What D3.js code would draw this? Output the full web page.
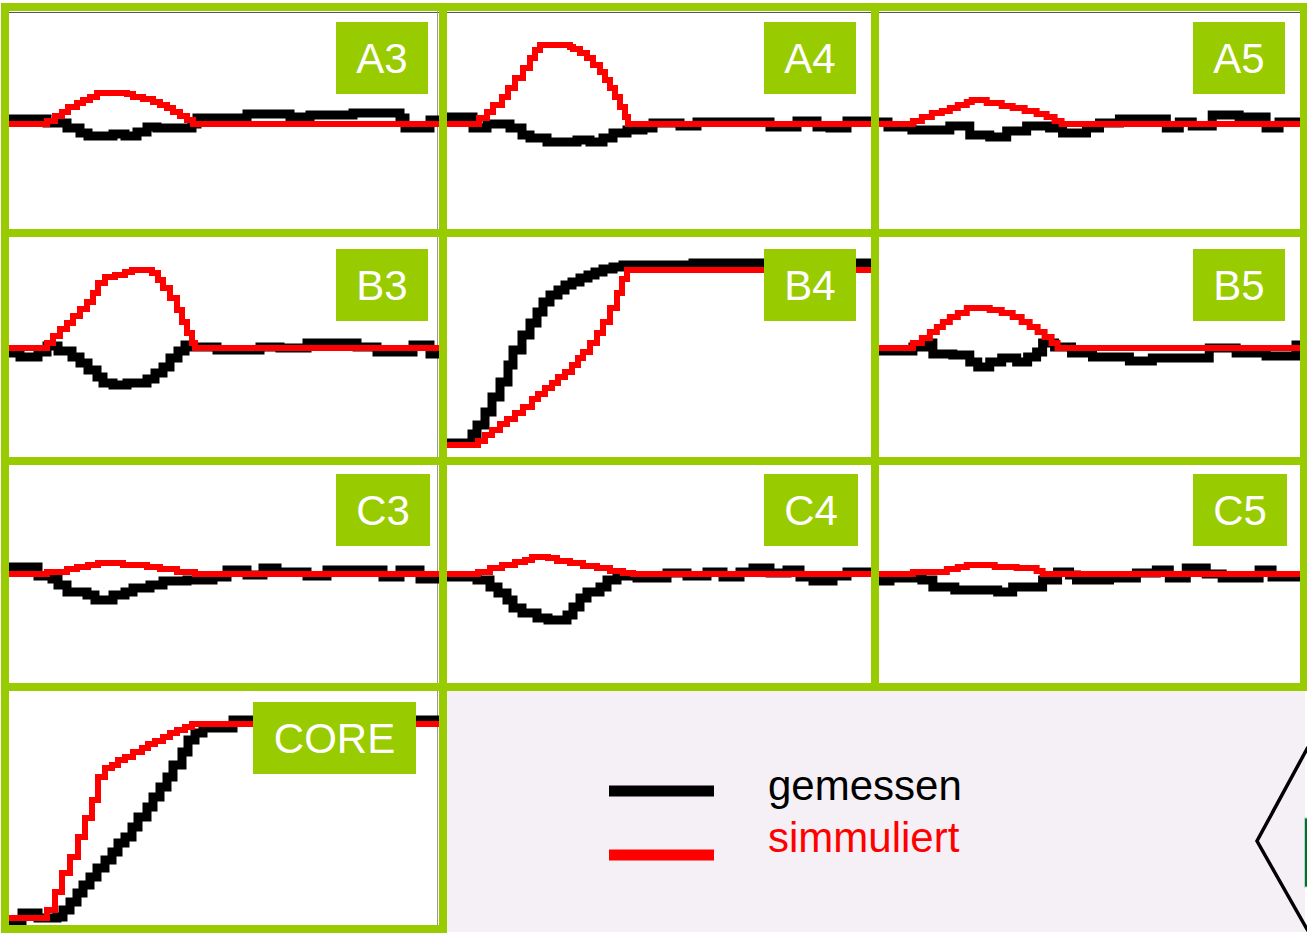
<!DOCTYPE html>
<html>
<head>
<meta charset="utf-8">
<script src="https://cdn.jsdelivr.net/npm/d3@7"></script>
<style>
  html, body { margin: 0; padding: 0; background: #fff; }
  svg { display: block; }
  text { font-family: "Liberation Sans", Arial, Helvetica, sans-serif; }
</style>
</head>
<body>
<div id="chart"></div>
<script>
// Each curve: [time, value] pairs, value 0 = rest level of the panel.
// "gemessen" (measured, black) and "simmuliert" (simulated, red).

const a3Measured = [[0,1],[38,-3],[58,-8],[71,-13],[79,-16],[104,-14],[116,-16],[128,-12],[138,-7],[148,-8],[183,-4],[188,2],[238,6],[281,3],[301,5],[344,7],[391,2],[396,-8],[421,0],[430,0]];
const a3Simulated = [[0,-4],[38,-1],[46,4],[53,8],[59,13],[68,17],[74,20],[81,23],[88,27],[118,26],[124,23],[134,21],[144,18],[151,15],[158,12],[164,8],[171,4],[178,0],[184,-4],[430,-4]];

const a4Measured = [[0,3],[26,-8],[40,-4],[63,-8],[75,-15],[83,-18],[100,-22],[130,-20],[143,-22],[156,-18],[166,-13],[180,-10],[196,-8],[206,-3],[233,-6],[250,-2],[323,-7],[350,-1],[370,-7],[383,-8],[400,-1],[424,-1]];
const a4Simulated = [[0,-4],[32,2],[40,8],[46,15],[55,23],[61,32],[68,42],[76,52],[83,62],[88,70],[93,75],[123,73],[126,71],[133,67],[140,62],[146,55],[153,48],[158,40],[163,32],[168,23],[173,13],[178,3],[181,-4],[424,-4]];

const a5Measured = [[0,-2],[9,-7],[33,-10],[71,-6],[91,-15],[111,-17],[128,-11],[148,-6],[171,-8],[184,-13],[208,-8],[221,-3],[241,1],[288,-8],[301,-2],[314,-6],[334,5],[361,3],[388,-8],[401,-2],[422,-2]];
const a5Simulated = [[0,-4],[34,-1],[43,3],[53,7],[63,9],[71,12],[79,15],[88,18],[93,20],[108,17],[123,14],[134,12],[146,9],[158,6],[168,3],[176,-1],[183,-4],[422,-4]];

const b3Measured = [[0,-6],[11,-10],[29,-5],[38,1],[49,-4],[63,-10],[71,-16],[79,-23],[88,-30],[94,-36],[104,-38],[118,-36],[138,-32],[146,-26],[154,-20],[161,-11],[169,-4],[176,2],[181,0],[208,-3],[251,0],[271,-1],[298,4],[348,0],[368,-5],[404,2],[421,-7],[430,-7]];
const b3Simulated = [[0,-1],[38,4],[44,11],[51,18],[58,24],[64,31],[71,38],[78,45],[84,54],[89,64],[96,70],[106,72],[116,75],[123,77],[143,74],[149,67],[154,59],[161,49],[168,37],[173,25],[178,14],[183,4],[186,-1],[430,-1]];

const b4Measured = [[0,-96],[25,-87],[30,-78],[38,-65],[45,-50],[53,-35],[61,-18],[66,-3],[75,12],[83,24],[90,35],[96,45],[103,52],[111,57],[118,62],[125,65],[133,69],[141,72],[148,75],[156,78],[166,80],[176,82],[246,84],[424,84]];
const b4Simulated = [[0,-98],[31,-94],[38,-88],[45,-83],[53,-77],[60,-72],[68,-66],[76,-60],[85,-52],[91,-47],[98,-41],[105,-36],[111,-30],[118,-25],[125,-18],[131,-11],[136,-5],[143,4],[150,14],[156,25],[163,39],[170,54],[175,68],[180,77],[424,77]];

const b5Measured = [[0,-4],[34,0],[46,4],[54,-7],[74,-8],[91,-15],[99,-20],[111,-15],[123,-11],[138,-15],[149,-10],[158,-5],[164,4],[176,0],[193,-6],[214,-10],[251,-14],[274,-11],[331,-1],[358,-6],[388,-9],[418,2],[422,2]];
const b5Simulated = [[0,-1],[34,4],[43,9],[51,15],[58,20],[64,25],[71,30],[79,34],[88,39],[111,37],[123,34],[134,30],[143,25],[151,20],[159,15],[166,10],[173,4],[179,-1],[422,-1]];

const c3Measured = [[0,6],[4,7],[29,-2],[43,-5],[49,-11],[58,-18],[78,-21],[86,-26],[104,-21],[116,-18],[124,-14],[141,-11],[154,-7],[178,-6],[204,-3],[218,4],[238,-1],[254,6],[268,2],[298,-2],[318,4],[374,-3],[391,4],[411,-5],[430,-5]];
const c3Simulated = [[0,0],[38,2],[58,5],[68,7],[79,9],[89,11],[114,9],[138,7],[151,5],[168,2],[186,0],[430,0]];

const c4Measured = [[0,-3],[30,-6],[43,-13],[51,-19],[60,-26],[66,-34],[75,-39],[90,-44],[101,-46],[120,-41],[126,-33],[133,-24],[140,-18],[153,-13],[160,-6],[170,-2],[190,-4],[220,1],[240,-2],[260,2],[276,-3],[293,2],[306,6],[323,1],[340,4],[353,-3],[366,-7],[386,-2],[400,2],[424,2]];
const c4Simulated = [[0,0],[31,2],[43,6],[55,9],[68,12],[78,14],[85,17],[101,16],[110,13],[123,11],[136,8],[150,6],[163,3],[176,1],[186,0],[424,0]];

const c5Measured = [[0,-7],[11,-4],[43,-6],[54,-13],[76,-16],[119,-18],[134,-13],[164,-6],[179,2],[191,-1],[198,-6],[231,-4],[258,1],[278,4],[291,-4],[308,6],[328,0],[344,-4],[381,4],[394,-3],[422,-3]];
const c5Simulated = [[0,0],[34,2],[68,5],[79,7],[88,9],[116,7],[138,6],[158,3],[164,0],[422,0]];

const coreMeasured = [[0,-115],[13,-105],[29,-110],[48,-109],[54,-102],[61,-94],[68,-85],[74,-77],[81,-69],[88,-60],[96,-52],[103,-44],[109,-35],[116,-29],[123,-19],[129,-9],[138,1],[144,11],[151,21],[158,31],[164,43],[173,56],[179,68],[186,75],[194,80],[224,88],[430,88]];
const coreSimulated = [[0,-110],[38,-102],[46,-84],[53,-65],[61,-49],[69,-29],[76,-10],[83,8],[89,31],[96,40],[103,43],[109,48],[116,51],[124,56],[133,60],[139,64],[146,67],[154,71],[161,75],[168,78],[176,81],[183,84],[430,84]];

const panelIds = ['A3', 'A4', 'A5', 'B3', 'B4', 'B5', 'C3', 'C4', 'C5', 'CORE'];
const legendLabels = ['gemessen', 'simmuliert'];

// --- layout
const width = 1307, height = 936;
const green = '#99cc00';
const frameW = 8;
const colEdges = [5, 443, 875, 1304];   // centre lines of the green frames
const rowEdges = [7, 233, 461, 687];
const coreFrame = { left: 5, right: 443, top: 687, bottom: 929 };
const labelX = [336, 764, 1193];
const labelY = [22, 249, 474];

const panels = [
  { id: panelIds[0], col: 0, row: 0, measured: a3Measured, simulated: a3Simulated },
  { id: panelIds[1], col: 1, row: 0, measured: a4Measured, simulated: a4Simulated },
  { id: panelIds[2], col: 2, row: 0, measured: a5Measured, simulated: a5Simulated },
  { id: panelIds[3], col: 0, row: 1, measured: b3Measured, simulated: b3Simulated },
  { id: panelIds[4], col: 1, row: 1, measured: b4Measured, simulated: b4Simulated },
  { id: panelIds[5], col: 2, row: 1, measured: b5Measured, simulated: b5Simulated },
  { id: panelIds[6], col: 0, row: 2, measured: c3Measured, simulated: c3Simulated },
  { id: panelIds[7], col: 1, row: 2, measured: c4Measured, simulated: c4Simulated },
  { id: panelIds[8], col: 2, row: 2, measured: c5Measured, simulated: c5Simulated },
  { id: panelIds[9], col: 0, row: 3, measured: coreMeasured, simulated: coreSimulated },
];

panels.forEach(p => {
  if (p.id === 'CORE') {
    p.frame = { ...coreFrame };
    p.label = { x: 253, y: 702, w: 163, h: 72 };
  } else {
    p.frame = { left: colEdges[p.col], right: colEdges[p.col + 1], top: rowEdges[p.row], bottom: rowEdges[p.row + 1] };
    p.label = { x: labelX[p.col], y: labelY[p.row], w: p.row === 2 ? 94 : 92, h: 72 };
  }
});

const svg = d3.select('#chart')
  .append('svg')
  .attr('width', width)
  .attr('height', height);

// legend background
svg.append('rect')
  .attr('x', 447).attr('y', 691)
  .attr('width', 858).attr('height', 241)
  .attr('fill', '#f5f0f5');

// thin grey plot borders left over from the original plots
svg.append('line')
  .attr('x1', 9).attr('x2', 1300).attr('y1', 12.5).attr('y2', 12.5)
  .attr('stroke', '#555').attr('stroke-width', 1);
svg.append('line')
  .attr('x1', 437.5).attr('x2', 437.5).attr('y1', 11).attr('y2', 925)
  .attr('stroke', '#999').attr('stroke-width', 1);

// --- curves
const half = frameW / 2;
panels.forEach(p => {
  const f = p.frame;
  const inner = { left: f.left + half, right: f.right - half, top: f.top + half, bottom: f.bottom - half };
  const innerH = inner.bottom - inner.top;

  const x = d3.scaleLinear()
    .domain([0, d3.max(p.measured, d => d[0])])
    .range([inner.left, inner.right]);
  const y = d3.scaleLinear()
    .domain([-innerH / 2, innerH / 2])
    .range([inner.bottom, inner.top]);

  const line = d3.line()
    .x(d => x(d[0]))
    .y(d => y(d[1]))
    .curve(d3.curveStepAfter);

  const g = svg.append('g').attr('class', 'panel');

  g.append('path')
    .datum(p.measured)
    .attr('d', line)
    .attr('fill', 'none')
    .attr('stroke', '#000')
    .attr('stroke-width', 9)
    .attr('stroke-linejoin', 'miter');

  g.append('path')
    .datum(p.simulated)
    .attr('d', line)
    .attr('fill', 'none')
    .attr('stroke', '#ff0000')
    .attr('stroke-width', 6)
    .attr('stroke-linejoin', 'miter');
});

// --- green frames on top of the curves
svg.append('g')
  .selectAll('rect')
  .data(panels)
  .join('rect')
  .attr('x', d => d.frame.left)
  .attr('y', d => d.frame.top)
  .attr('width', d => d.frame.right - d.frame.left)
  .attr('height', d => d.frame.bottom - d.frame.top)
  .attr('fill', 'none')
  .attr('stroke', green)
  .attr('stroke-width', frameW);

// --- panel labels
const labels = svg.append('g')
  .selectAll('g')
  .data(panels)
  .join('g');

labels.append('rect')
  .attr('x', d => d.label.x)
  .attr('y', d => d.label.y)
  .attr('width', d => d.label.w)
  .attr('height', d => d.label.h)
  .attr('fill', green);

labels.append('text')
  .attr('x', d => d.label.x + d.label.w / 2)
  .attr('y', d => d.label.y + 51)
  .attr('text-anchor', 'middle')
  .attr('fill', '#fff')
  .attr('font-size', 42)
  .text(d => d.id);

// --- legend
const legendColors = ['#000', '#ff0000'];
const legendRowY = [791, 855];
const legendTextY = [800, 852];

const legend = svg.append('g')
  .selectAll('g')
  .data(legendLabels)
  .join('g');

legend.append('line')
  .attr('x1', 609).attr('x2', 714)
  .attr('y1', (d, i) => legendRowY[i])
  .attr('y2', (d, i) => legendRowY[i])
  .attr('stroke', (d, i) => legendColors[i])
  .attr('stroke-width', 11);

legend.append('text')
  .attr('x', 768)
  .attr('y', (d, i) => legendTextY[i])
  .attr('fill', (d, i) => legendColors[i])
  .attr('font-size', 42)
  .text(d => d);

// --- cut-off shape at the right edge
svg.append('rect')
  .attr('x', 1304.5).attr('y', 818)
  .attr('width', 8).attr('height', 69)
  .attr('fill', '#0a6e1e')
  .attr('stroke', '#a8d8e0')
  .attr('stroke-width', 1);

svg.append('path')
  .attr('d', d3.line()([[1308, 747], [1257, 841], [1308, 931]]))
  .attr('fill', 'none')
  .attr('stroke', '#000')
  .attr('stroke-width', 3.5);
</script>
</body>
</html>
